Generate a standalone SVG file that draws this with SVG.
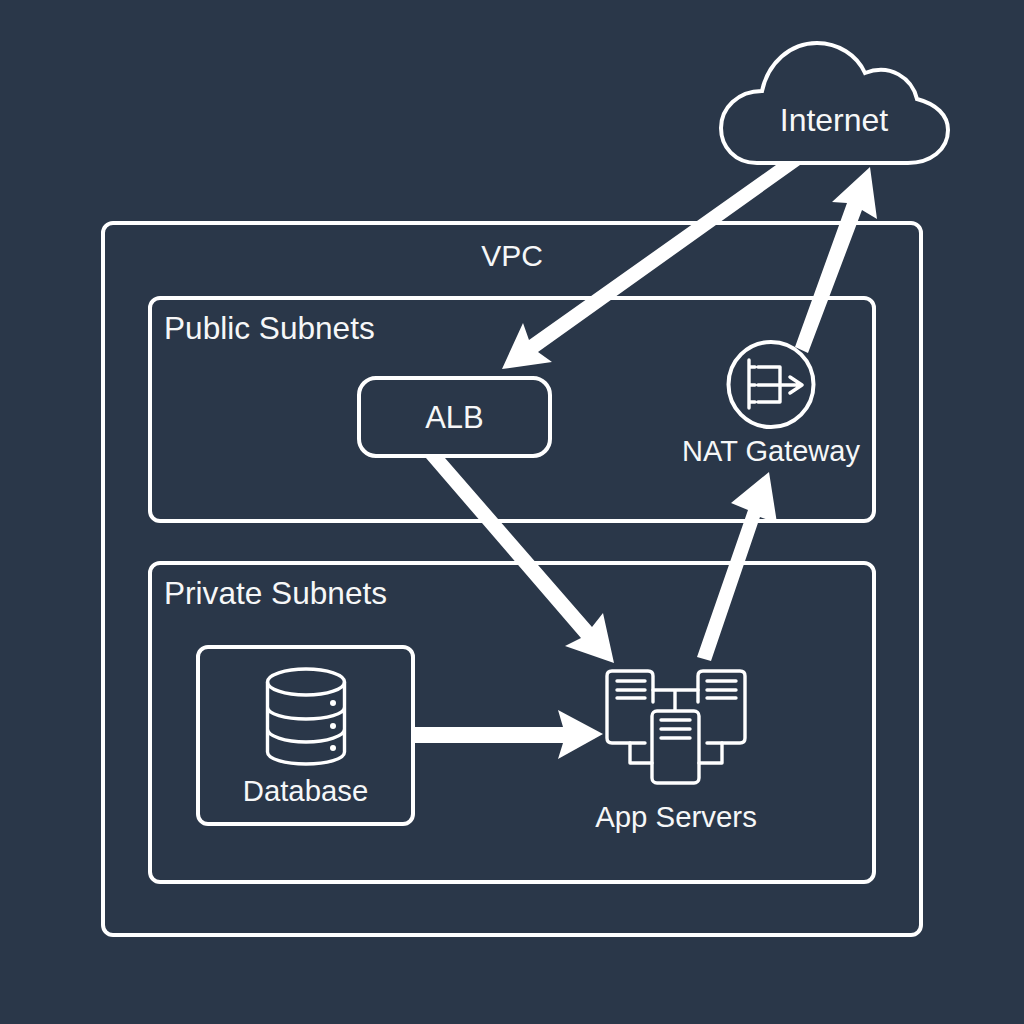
<svg xmlns="http://www.w3.org/2000/svg" width="1024" height="1024" viewBox="0 0 1024 1024">
<style>
.b{fill:none;stroke:#fff;stroke-width:4}
.i{fill:none;stroke:#fff;stroke-width:3.4;stroke-linecap:round;stroke-linejoin:round}
.a{fill:#fff;stroke:none}
text{fill:#f6f7f8;font-family:"Liberation Sans",Arial,sans-serif}
.m{text-anchor:middle}
</style>
<rect width="1024" height="1024" fill="#2a3749"/>
<g id="vpc"><rect class="b" x="103" y="223" width="818" height="712" rx="10"/><text class="m" x="512" y="266" font-size="30">VPC</text></g>
<g id="public-subnets"><rect class="b" x="150" y="298" width="724" height="223" rx="10"/><text x="164" y="339" font-size="31.6">Public Subnets</text></g>
<g id="private-subnets"><rect class="b" x="150" y="563" width="724" height="319" rx="10"/><text x="164" y="604" font-size="31.6">Private Subnets</text></g>
<g id="connectors">
<polygon class="a" points="776,165 529,340 523,323 502,369 552,362 538,352 800,165"/>
<polygon class="a" points="795,347 808,353 862,210 877,219 870,167 832,202 847,203"/>
<polygon class="a" points="697,657 711,661 760,517 777,523 769,472 731,503 748,510"/>
<polygon class="a" points="426,458 445,458 592,627 603,613 614,663 565,646 581,638"/>
<polygon class="a" points="414,727 563,727 558,710 603,734 558,759 563,743 414,743"/>
</g>
<g id="internet"><path class="b" d="M757 163C735 163 721 147 721 128C721 108 738 91 762 91C768 63 790 43 817 43C838 43 857 55 865 73C890 63 912 78 917 99C936 104 948 115 948 130C948 150 930 163 908 163Z"/><text class="m" x="834" y="131" font-size="32">Internet</text></g>
<g id="alb"><rect class="b" x="359" y="378" width="191" height="78" rx="17"/><text class="m" x="454.500" y="428" font-size="31">ALB</text></g>
<g id="nat-gateway"><circle class="b" cx="771" cy="384.500" r="42.500"/>
<path class="i" d="M749 360V408M749 367H755M749 385H755M749 402H755M758 367H780V402H758M758 385H802M790 377L802 385L790 393"/>
<text class="m" x="771" y="461" font-size="29">NAT Gateway</text></g>
<g id="app-servers">
<path class="i" d="M653 702V676Q653 671 648 671H612Q607 671 607 676V738Q607 743 612 743H645"/>
<path class="i" d="M698 702V676Q698 671 703 671H740Q745 671 745 676V738Q745 743 740 743H707"/>
<rect class="i" x="652" y="711" width="47" height="72" rx="5"/>
<path class="i" d="M617 681H645M617 690H645M617 698H645M707 681H736M707 690H736M707 698H736M661 720H690M661 729H690M661 738H690M653 690H698M675 690V710M630 743V763H652M722 743V763H699"/>
<text class="m" x="676" y="827" font-size="29.400">App Servers</text></g>
<g id="database"><rect class="b" x="198" y="647" width="215" height="177" rx="10"/>
<ellipse class="i" cx="306" cy="682" rx="38.500" ry="13"/>
<path class="i" d="M267.500 682V752C267.500 759 285 764 306 764C327 764 344.500 759 344.500 752V682M267.500 707C267.500 714 285 719 306 719C327 719 344.500 714 344.500 707M267.500 729C267.500 736 285 742 306 742C327 742 344.500 736 344.500 729"/>
<circle class="a" cx="333" cy="703" r="3"/><circle class="a" cx="333" cy="726" r="3"/><circle class="a" cx="333" cy="748" r="3"/>
<text class="m" x="305.500" y="801" font-size="29.300">Database</text></g>
</svg>
